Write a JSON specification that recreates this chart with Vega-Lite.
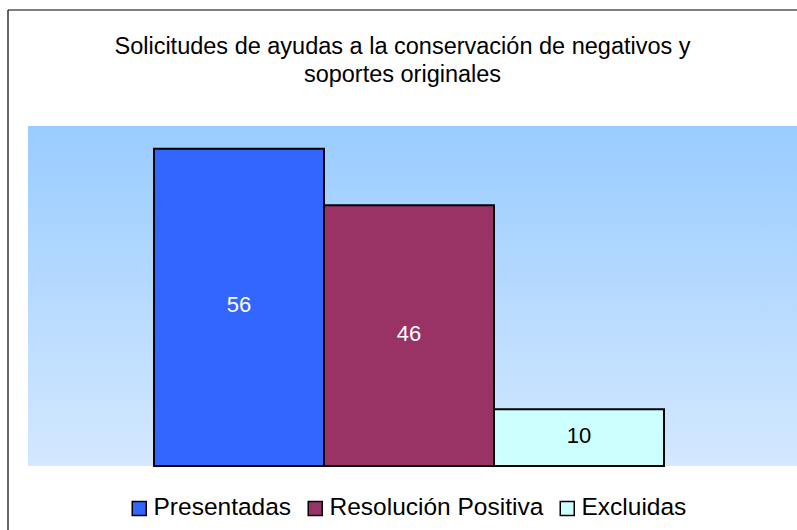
{
  "$schema": "https://vega.github.io/schema/vega-lite/v6.json",
  "width": 789,
  "height": 520,
  "autosize": {"type": "none"},
  "padding": {"left": 8, "top": 10, "right": 0, "bottom": 0},
  "background": "white",
  "config": {"view": {"stroke": null}, "font": "Liberation Sans"},
  "title": {
    "text": ["Solicitudes de ayudas a la conservación de negativos y", "soportes originales"],
    "fontSize": 23.5,
    "fontWeight": "normal",
    "font": "Liberation Sans",
    "color": "#000",
    "anchor": "middle",
    "frame": "group",
    "baseline": "top",
    "lineHeight": 28,
    "offset": -77
  },
  "data": {
    "values": [
      {"categoria": "Presentadas", "orden": 0, "valor": 56},
      {"categoria": "Resolución Positiva", "orden": 1, "valor": 46},
      {"categoria": "Excluidas", "orden": 2, "valor": 10}
    ]
  },
  "layer": [
    {
      "data": {"values": [{}]},
      "mark": {
        "type": "rect",
        "fill": {
          "gradient": "linear", "x1": 0, "y1": 0, "x2": 0, "y2": 1,
          "stops": [{"offset": 0, "color": "#99CCFF"}, {"offset": 1, "color": "#D4E8FF"}]
        }
      },
      "encoding": {
        "x": {"datum": -1.2412, "type": "quantitative", "scale": {"domain": [-1.3588, 3.2824], "nice": false, "zero": false, "padding": 0}, "axis": null},
        "x2": {"datum": 3.2824},
        "y": {"datum": 0, "type": "quantitative", "scale": {"domain": [-11.294, 80.47], "nice": false, "zero": false, "padding": 0}, "axis": null},
        "y2": {"datum": 60}
      }
    },
    {
      "data": {"values": [{}]},
      "mark": {"type": "rule", "color": "#000", "strokeWidth": 1.2},
      "encoding": {
        "x": {"datum": -1.3588, "type": "quantitative", "scale": {"domain": [-1.3588, 3.2824], "nice": false, "zero": false, "padding": 0}, "axis": null}
      }
    },
    {
      "data": {"values": [{}]},
      "mark": {"type": "rule", "color": "#000", "strokeWidth": 1.2},
      "encoding": {
        "y": {"datum": 80.47, "type": "quantitative", "scale": {"domain": [-11.294, 80.47], "nice": false, "zero": false, "padding": 0}, "axis": null}
      }
    },
    {
      "mark": {"type": "bar", "width": 170, "stroke": "#000", "strokeWidth": 2},
      "encoding": {
        "x": {"field": "orden", "type": "quantitative", "scale": {"domain": [-1.3588, 3.2824], "nice": false, "zero": false, "padding": 0}, "axis": null},
        "y": {"field": "valor", "type": "quantitative", "scale": {"domain": [-11.294, 80.47], "nice": false, "zero": false, "padding": 0}, "axis": null},
        "y2": {"datum": 0},
        "fill": {
          "field": "categoria",
          "type": "nominal",
          "scale": {"domain": ["Presentadas", "Resolución Positiva", "Excluidas"], "range": ["#3366FF", "#993366", "#CCFFFF"]},
          "legend": {
            "title": null,
            "orient": "none",
            "direction": "horizontal",
            "legendX": 119,
            "legendY": 486,
            "symbolType": "square",
            "symbolSize": 196,
            "symbolStrokeColor": "#000",
            "symbolStrokeWidth": 1.5,
            "symbolOpacity": 1,
            "labelFont": "Liberation Sans",
            "labelFontSize": 24.5,
            "labelColor": "#000",
            "labelOffset": 2,
            "columnPadding": 11,
            "labelLimit": 400
          }
        }
      }
    },
    {
      "transform": [{"calculate": "datum.valor / 2", "as": "mitad"}],
      "mark": {"type": "text", "fontSize": 22, "font": "Liberation Sans", "baseline": "middle", "dy": -2},
      "encoding": {
        "x": {"field": "orden", "type": "quantitative", "scale": {"domain": [-1.3588, 3.2824], "nice": false, "zero": false, "padding": 0}, "axis": null},
        "y": {"field": "mitad", "type": "quantitative", "scale": {"domain": [-11.294, 80.47], "nice": false, "zero": false, "padding": 0}, "axis": null},
        "text": {"field": "valor", "type": "quantitative"},
        "color": {"condition": {"test": "datum.valor < 20", "value": "#000"}, "value": "#FFFFFF"}
      }
    }
  ]
}
